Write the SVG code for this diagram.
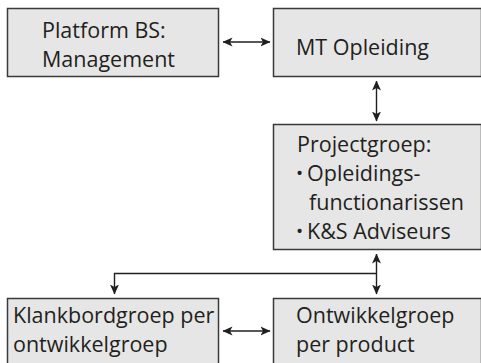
<svg xmlns="http://www.w3.org/2000/svg" width="481" height="363" viewBox="0 0 481 363">
<defs>
<marker id="ah" viewBox="0 0 10 10" refX="9.5" refY="5" markerWidth="10" markerHeight="10" markerUnits="userSpaceOnUse" orient="auto-start-reverse">
<path d="M0,0.5 L10,5 L0,9.5 L2.5,5 Z" fill="#231f20"/>
</marker>
<style>
.box{fill:#e6e6e6;stroke:#3a3a3a;stroke-width:1.5}
.t{font-family:"Open Sans","Noto Sans","Liberation Sans",sans-serif;font-size:21.5px;fill:#231f20}
.b{font-size:19px}
.c{fill:none;stroke:#231f20;stroke-width:1.4}
</style>
</defs>
<g id="platform">
<rect class="box" x="7.5" y="8.5" width="211" height="68"/>
<text class="t" x="42" y="38">Platform BS:</text>
<text class="t" x="42" y="67">Management</text>
</g>
<g id="mt">
<rect class="box" x="273.5" y="8.5" width="208" height="68"/>
<text class="t" x="296" y="55">MT Opleiding</text>
</g>
<g id="projectgroep">
<rect class="box" x="273.5" y="124.5" width="208" height="125"/>
<text class="t" x="297" y="152">Projectgroep:</text>
<text class="t" x="296" y="181"><tspan class="b" dy="-1">•</tspan><tspan x="307" dy="1">Opleidings-</tspan></text>
<text class="t" x="309" y="210">functionarissen</text>
<text class="t" x="296" y="239"><tspan class="b" dy="-1">•</tspan><tspan x="307" dy="1">K&amp;S Adviseurs</tspan></text>
</g>
<g id="klankbord">
<rect class="box" x="7.5" y="298.5" width="211" height="70"/>
<text class="t" x="13" y="323">Klankbordgroep per</text>
<text class="t" x="13" y="352">ontwikkelgroep</text>
</g>
<g id="ontwikkel">
<rect class="box" x="273.5" y="298.5" width="208" height="70"/>
<text class="t" x="296" y="323">Ontwikkelgroep</text>
<text class="t" x="296" y="352">per product</text>
</g>
<g id="connectors">
<line class="c" x1="223" y1="42" x2="270" y2="42" marker-start="url(#ah)" marker-end="url(#ah)"/>
<line class="c" x1="376.5" y1="81" x2="376.5" y2="121" marker-start="url(#ah)" marker-end="url(#ah)"/>
<line class="c" x1="376.5" y1="254" x2="376.5" y2="294" marker-start="url(#ah)" marker-end="url(#ah)"/>
<polyline class="c" points="376.5,273.5 114.5,273.5 114.5,294" marker-end="url(#ah)"/>
<line class="c" x1="223" y1="331" x2="270" y2="331" marker-start="url(#ah)" marker-end="url(#ah)"/>
</g>
</svg>
